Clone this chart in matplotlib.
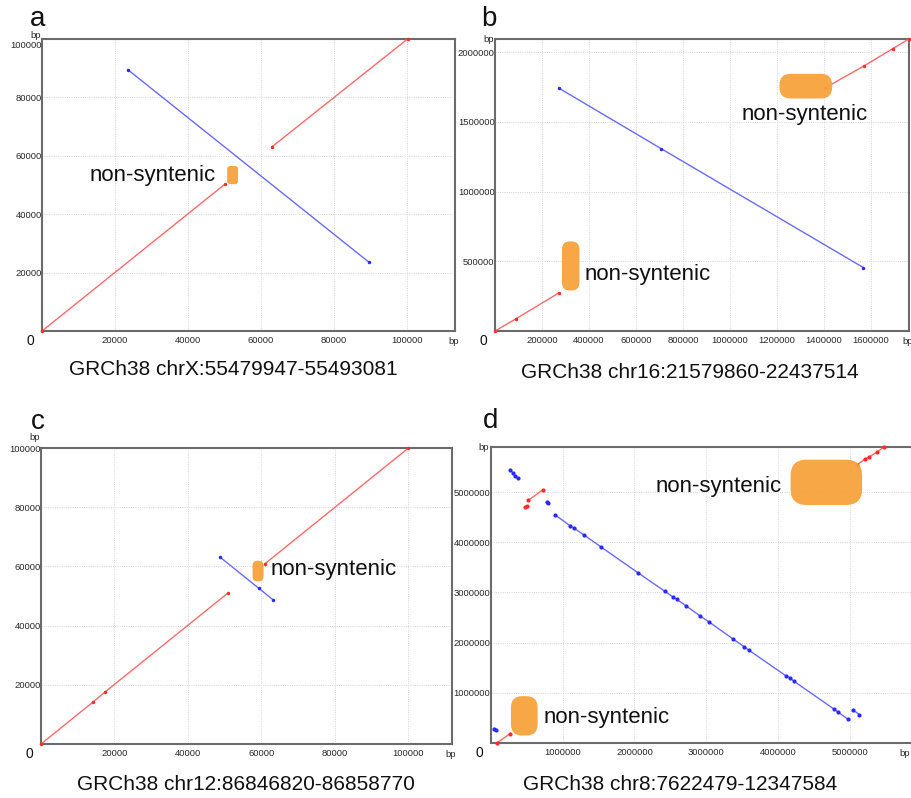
import matplotlib
matplotlib.use("Agg")
import matplotlib.pyplot as plt
import matplotlib.transforms as mtransforms
from matplotlib.patches import FancyBboxPatch

plt.rcParams['font.family'] = ['Liberation Sans', 'DejaVu Sans']

W, H = 912, 798

# ---------------- data ----------------
# Panel a: GRCh38 chrX:55479947-55493081
a_fwd = [([0, 50100], [0, 50300]),
         ([63000, 100100], [63100, 100000])]
a_rev = [([23500, 89600], [89500, 23500])]
a_box = [50700, 50300, 53700, 56500]          # x0, y0, x1, y1
a_text = [(47700, 53100, 'right')]
a_xticks = [20000, 40000, 60000, 80000, 100000]
a_yticks = [20000, 40000, 60000, 80000, 100000]
a_lims = (113100, 100000)
a_title = 'GRCh38 chrX:55479947-55493081'

# Panel b: GRCh38 chr16:21579860-22437514
b_fwd = [([0, 89000, 272000], [0, 87400, 273600]),
         ([1404000, 1570000, 1692000, 1759000], [1744000, 1902000, 2026000, 2093000])]
b_rev = [([272000, 706000, 1567000], [1742000, 1309000, 455000])]
b_box = [[285000, 290000, 359000, 643000],
         [1210000, 1668000, 1434000, 1845000]]
b_text = [(380000, 404700, 'left'), (1318000, 1551000, 'center')]
b_xticks = [200000, 400000, 600000, 800000, 1000000, 1200000, 1400000, 1600000]
b_yticks = [500000, 1000000, 1500000, 2000000]
b_lims = (1761000, 2095000)
b_title = 'GRCh38 chr16:21579860-22437514'

# Panel c: GRCh38 chr12:86846820-86858770
c_fwd = [([0, 14270, 17540, 50940], [0, 14290, 17670, 51000]),
         ([60930, 100130], [60800, 100000])]
c_rev = [([48750, 59390, 63300], [63180, 52570, 48650])]
c_box = [57650, 54930, 60650, 61930]
c_text = [(62500, 58900, 'left')]
c_xticks = [20000, 40000, 60000, 80000, 100000]
c_yticks = [20000, 40000, 60000, 80000, 100000]
c_lims = (112000, 100000)
c_title = 'GRCh38 chr12:86846820-86858770'

# Panel d: GRCh38 chr8:7622479-12347584
d_fwd = [([87500, 273000], [3000, 189000]),
         ([481000, 500000], [4698000, 4718000]),
         ([523000, 722000], [4837000, 5043000]),
         ([5092000, 5212000, 5259000, 5375000, 5467000],
          [5541000, 5667000, 5700000, 5799000, 5900000])]
d_rev = [([41000, 74000], [289000, 256000]),
         ([273000, 314000, 342000, 379000], [5435000, 5382000, 5322000, 5275000]),
         ([777000, 800000], [4797000, 4784000]),
         ([898000, 1101000, 1162000, 1291000, 1541000, 2046000, 2421000, 2541000,
           2588000, 2713000, 2912000, 3036000, 3370000, 3527000, 3592000, 4101000,
           4157000, 4217000, 4777000, 4833000, 4963000],
          [4545000, 4333000, 4280000, 4153000, 3901000, 3396000, 3025000, 2905000,
           2865000, 2739000, 2533000, 2414000, 2075000, 1916000, 1849000, 1345000,
           1305000, 1232000, 674000, 614000, 481000]),
         ([5041000, 5129000], [654000, 568000])]
d_box = [[282000, 149000, 652000, 933000],
         [4171000, 4745000, 5166000, 5647000]]
d_text = [(731000, 502000, 'left'), (4056000, 5104000, 'right')]
d_xticks = [1000000, 2000000, 3000000, 4000000, 5000000]
d_yticks = [1000000, 2000000, 3000000, 4000000, 5000000]
d_lims = (5860000, 5900000)
d_title = 'GRCh38 chr8:7622479-12347584'

# ---------------- layout / style ----------------
panels = [
    dict(tag='a', rect=(42, 39, 455, 331), fwd=a_fwd, rev=a_rev, boxes=[a_box], radii=[3],
         texts=a_text, xt=a_xticks, yt=a_yticks, lims=a_lims, title=a_title,
         title_xy=(233, 370), tag_xy=(38, 19), bp_up=3, bp_dx=-1, top_nudge=6, ms=2.5),
    dict(tag='b', rect=(495, 39, 909, 331), fwd=b_fwd, rev=b_rev, boxes=b_box, radii=[8, 11],
         texts=b_text, xt=b_xticks, yt=b_yticks, lims=b_lims, title=b_title,
         title_xy=(690, 372), tag_xy=(489, 19), bp_up=0, bp_dx=-1, top_nudge=0, ms=2.5),
    dict(tag='c', rect=(41, 448, 452, 744), fwd=c_fwd, rev=c_rev, boxes=[c_box], radii=[5],
         texts=c_text, xt=c_xticks, yt=c_yticks, lims=c_lims, title=c_title,
         title_xy=(246, 785), tag_xy=(38, 422), bp_up=10, bp_dx=-1, top_nudge=0, ms=2.5),
    dict(tag='d', rect=(490.7, 447, 912, 743), fwd=d_fwd, rev=d_rev, boxes=d_box, radii=[11, 16],
         texts=d_text, xt=d_xticks, yt=d_yticks, lims=d_lims, title=d_title,
         title_xy=(680, 785), tag_xy=(491, 421), bp_up=0, bp_dx=-5, top_nudge=0, ms=3),
]

RED_LINE = '#ff6a6a'
RED_DOT = '#ff2a2a'
BLUE_LINE = '#6a6aff'
BLUE_DOT = '#2a2aff'
ORANGE = '#f7a23b'
FRAME = '#6b6b6b'
TICKC = '#2a2a2a'

fig = plt.figure(figsize=(W / 100, H / 100), dpi=100)


def fig_rect(l, t, r, b):
    return [l / W, 1 - b / H, (r - l) / W, (b - t) / H]


for p in panels:
    l, t, r, b = p['rect']
    ax = fig.add_axes(fig_rect(l, t, r, b))
    ax.set_xlim(0, p['lims'][0])
    ax.set_ylim(0, p['lims'][1])
    ax.set_xticks(p['xt'])
    ax.set_yticks(p['yt'])
    ax.set_xticklabels([str(v) for v in p['xt']])
    ax.set_yticklabels([str(v) for v in p['yt']])
    ax.tick_params(length=0, labelsize=6.8, labelcolor=TICKC, pad=3.5, axis='x')
    ax.tick_params(length=0, labelsize=6.8, labelcolor=TICKC, pad=0.3, axis='y')
    if p['top_nudge']:
        lab = ax.get_yticklabels()[-1]
        lab.set_transform(lab.get_transform() + mtransforms.ScaledTranslation(
            0, -p['top_nudge'] / 100, fig.dpi_scale_trans))
    ax.grid(True, color='#d6d6d6', linestyle=(0, (1, 1.3)), linewidth=0.7)
    ax.set_axisbelow(True)
    for s in ax.spines.values():
        s.set_color(FRAME)
        s.set_linewidth(1.5)

    for xs, ys in p['fwd']:
        ax.plot(xs, ys, color=RED_LINE, lw=1.0, zorder=3)
        ax.plot(xs, ys, ls='none', marker='o', ms=p['ms'], color=RED_DOT,
                mec='none', zorder=4, clip_on=False)
    for xs, ys in p['rev']:
        ax.plot(xs, ys, color=BLUE_LINE, lw=1.0, zorder=3)
        ax.plot(xs, ys, ls='none', marker='o', ms=p['ms'], color=BLUE_DOT,
                mec='none', zorder=4, clip_on=False)

    # data units per pixel
    xpp = p['lims'][0] / (r - l)
    ypp = p['lims'][1] / (b - t)
    for (x0, y0, x1, y1), rad in zip(p['boxes'], p['radii']):
        patch = FancyBboxPatch((x0, y0), x1 - x0, y1 - y0,
                               boxstyle=f"round,pad=0,rounding_size={rad * xpp}",
                               mutation_aspect=ypp / xpp,
                               fc=ORANGE, ec='none', alpha=0.95, zorder=5,
                               transform=ax.transData)
        ax.add_patch(patch)
    for x, y, ha in p['texts']:
        ax.text(x, y, 'non-syntenic', fontsize=16, ha=ha, va='center',
                color='#111111', zorder=6)

    # origin "0" and "bp" labels
    ax.annotate('0', xy=(0, 0), xycoords='axes fraction', xytext=(-8.5, -7),
                textcoords='offset points', ha='center', va='center',
                fontsize=10, color='#111111', annotation_clip=False)
    ax.annotate('bp', xy=(0, 1), xycoords='axes fraction',
                xytext=(-1, p['bp_up'] * 0.72), textcoords='offset points',
                ha='right', va='center', fontsize=6.8, color=TICKC,
                annotation_clip=False)
    ax.annotate('bp', xy=(1, 0), xycoords='axes fraction', xytext=(p['bp_dx'], -7.5),
                textcoords='offset points', ha='center', va='center',
                fontsize=6.8, color=TICKC, annotation_clip=False)

    fig.text(p['title_xy'][0] / W, 1 - p['title_xy'][1] / H, p['title'],
             fontsize=15, ha='center', va='center', color='#111111')
    fig.text(p['tag_xy'][0] / W, 1 - p['tag_xy'][1] / H, p['tag'],
             fontsize=20, ha='center', va='center', color='#111111')

fig.savefig('out.png', dpi=100)
